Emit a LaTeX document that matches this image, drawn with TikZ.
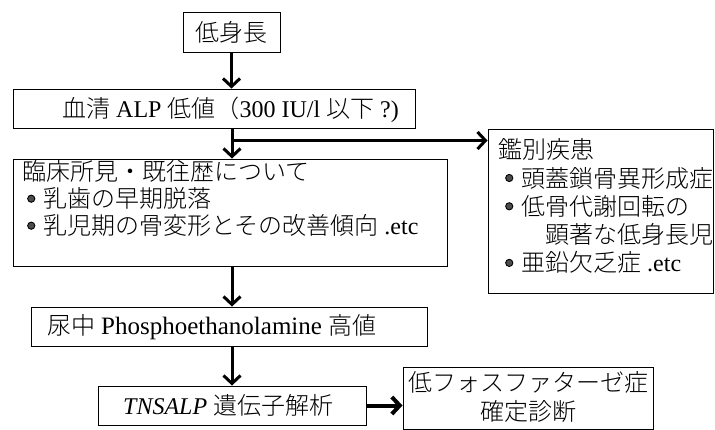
\documentclass[tikz,border=0pt]{standalone}
\usepackage{fontspec}
\setmainfont{Liberation Serif}
\newfontfamily\jp{Noto Sans CJK JP Light}
\usetikzlibrary{arrows.meta}
\newcommand{\J}[1]{{\jp #1}}
\newcommand{\bul}{\makebox[16pt][l]{\raisebox{5pt}{\tikz\filldraw[fill=black!70,draw=black,line width=0.9pt] (0,0) circle (3.6pt);}}}
\begin{document}
\begin{tikzpicture}[x=1pt,y=-1pt,
  box/.style={draw, line width=0.9pt, inner sep=0pt, rectangle},
  txt/.style={inner sep=0pt, font=\fontsize{24}{28}\selectfont},
  flow/.style={line width=3pt, -{Straight Barb[length=8pt,width=17pt]}},
]
\useasboundingbox[fill=white] (0,0) rectangle (715,430);
% boxes
\node[box, minimum width=97pt, minimum height=40pt] (b1) at (231.5,32) {};
\node[box, minimum width=402pt, minimum height=39pt] (b2) at (214,108.5) {};
\node[box, minimum width=434pt, minimum height=107pt] (b3) at (230,212.5) {};
\node[box, minimum width=225pt, minimum height=164pt] (rb) at (600.5,211) {};
\node[box, minimum width=396pt, minimum height=39pt] (b4) at (229,326.5) {};
\node[box, minimum width=268pt, minimum height=39pt] (b5) at (232,405.5) {};
\node[box, minimum width=250pt, minimum height=62pt] (b6) at (528,398.5) {};
% texts
\node[txt] (t1) at (b1.center) {\J{低身長}};
\node[txt, anchor=west] (t2) at (62,110) {\J{血清} ALP \J{低値（}300 IU/l \J{以下} ?)};
\node[txt, anchor=north west, align=left, font=\fontsize{24}{27}\selectfont] (t3) at (22,160.5)
  {\J{臨床所見・既往歴について}\\
   \hspace*{5pt}\bul\J{乳歯の早期脱落}\\
   \hspace*{5pt}\bul\J{乳児期の骨変形とその改善傾向} .etc};
\node[txt, anchor=north west, align=left, font=\fontsize{24}{28.3}\selectfont] (trb) at (498,138.5)
  {\J{鑑別疾患}\\
   \hspace*{7pt}\bul\J{頭蓋鎖骨異形成症}\\
   \hspace*{7pt}\bul\J{低骨代謝回転の}\\
   \hspace*{47pt}\J{顕著な低身長児}\\
   \hspace*{7pt}\bul\J{亜鉛欠乏症} .etc};
\node[txt, anchor=west] (t4) at (47,327) {\J{尿中} {\fontsize{25}{28}\selectfont Phosphoethanolamine} \J{高値}};
\node[txt, anchor=west] (t5) at (123,405.5) {\textit{TNSALP} \J{遺伝子解析}};
\node[txt, anchor=north, align=center, font=\fontsize{24}{29}\selectfont] (t6) at (528,371.5)
  {\J{低フォスファターゼ症}\\\J{確定診断}};
% connectors
\coordinate (j) at (232,140.5);
\draw[flow] (b1.south) -- (b1.south |- b2.north);
\draw[line width=3pt] (j |- b2.south) -- (j);
\draw[flow] (j) -- (j -| rb.west);
\draw[flow] (j) -- (j |- b3.north);
\draw[flow] (j |- b3.south) -- (j |- b4.north);
\draw[flow] (j |- b4.south) -- (j |- b5.north);
\draw[flow, line width=4pt] (b5.east) -- (b5.east -| b6.west);
\end{tikzpicture}
\end{document}
